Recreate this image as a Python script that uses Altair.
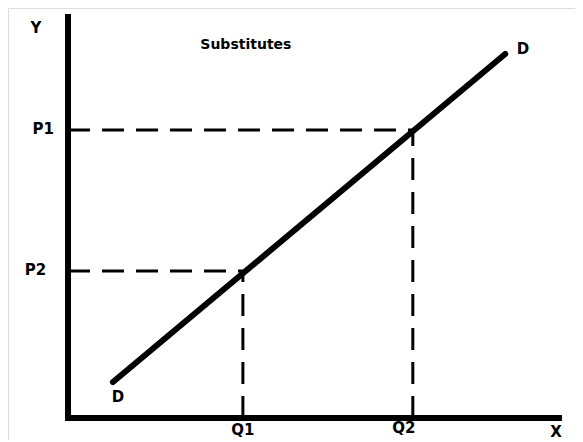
import altair as alt
import pandas as pd

# Demand curve D (quantity, price) endpoints
d_q = [9.1, 88.5]
d_p = [8.9, 90.1]

# Reference points on the curve
point_names = ["1", "2"]
q_vals = [35.4, 69.8]
p_vals = [36.4, 71.3]

# Text annotations
ann_text = ["Y", "P1", "P2", "Q1", "Q2", "X", "D", "D", "Substitutes"]
ann_x = [-6.5, -5.0, -6.6, 35.4, 68.0, 98.8, 10.1, 92.1, 36.0]
ann_y = [96.5, 71.6, 36.6, -3.0, -2.4, -3.4, 5.3, 91.4, 92.3]
ann_size = [15, 15, 15, 15, 15, 15, 15, 15, 14]

XDOM = [-12.15, 102.63]
YDOM = [-5.45, 101.49]
xs = alt.Scale(domain=XDOM, nice=False, zero=False)
ys = alt.Scale(domain=YDOM, nice=False, zero=False)
noax = None

curve = pd.DataFrame({"q": d_q, "p": d_p})
pts = pd.DataFrame({"name": point_names, "q": q_vals, "p": p_vals})
ann = pd.DataFrame({"t": ann_text, "x": ann_x, "y": ann_y, "s": ann_size})

# axes as thick rules
yaxis = alt.Chart(pd.DataFrame({"x": [0], "y": [0], "y2": [100]})).mark_rule(
    color="black", strokeWidth=6
).encode(x=alt.X("x:Q", scale=xs, axis=noax), y=alt.Y("y:Q", scale=ys, axis=noax), y2="y2:Q")
xaxis = alt.Chart(pd.DataFrame({"x": [-0.6], "x2": [100], "y": [0]})).mark_rule(
    color="black", strokeWidth=6
).encode(x=alt.X("x:Q", scale=xs, axis=noax), x2="x2:Q", y=alt.Y("y:Q", scale=ys, axis=noax))

# dashed guides
hdash = alt.Chart(pts).transform_calculate(z="0").mark_rule(
    color="black", strokeWidth=3, strokeDash=[22, 12]
).encode(x=alt.X("z:Q", scale=xs, axis=noax), x2="q:Q", y=alt.Y("p:Q", scale=ys, axis=noax))
vdash = alt.Chart(pts).transform_calculate(z="0").mark_rule(
    color="black", strokeWidth=3, strokeDash=[22, 12]
).encode(x=alt.X("q:Q", scale=xs, axis=noax), y=alt.Y("z:Q", scale=ys, axis=noax), y2="p:Q")

line = alt.Chart(curve).mark_line(color="black", strokeWidth=6, strokeCap="round").encode(
    x=alt.X("q:Q", scale=xs, axis=noax), y=alt.Y("p:Q", scale=ys, axis=noax)
)

text = alt.Chart(ann).mark_text(
    font="DejaVu Sans", fontWeight="bold", color="black", baseline="middle", align="center"
).encode(
    x=alt.X("x:Q", scale=xs, axis=noax),
    y=alt.Y("y:Q", scale=ys, axis=noax),
    text="t:N",
    size=alt.Size("s:Q", scale=None, legend=None),
)

chart = alt.layer(yaxis, xaxis, hdash, vdash, line, text).properties(
    width=567, height=432, autosize=alt.AutoSizeParams(type="none"), padding=0
).configure_view(stroke=None).configure(background="white")

chart.save("out.html", embed_options={"renderer": "svg", "actions": False})
